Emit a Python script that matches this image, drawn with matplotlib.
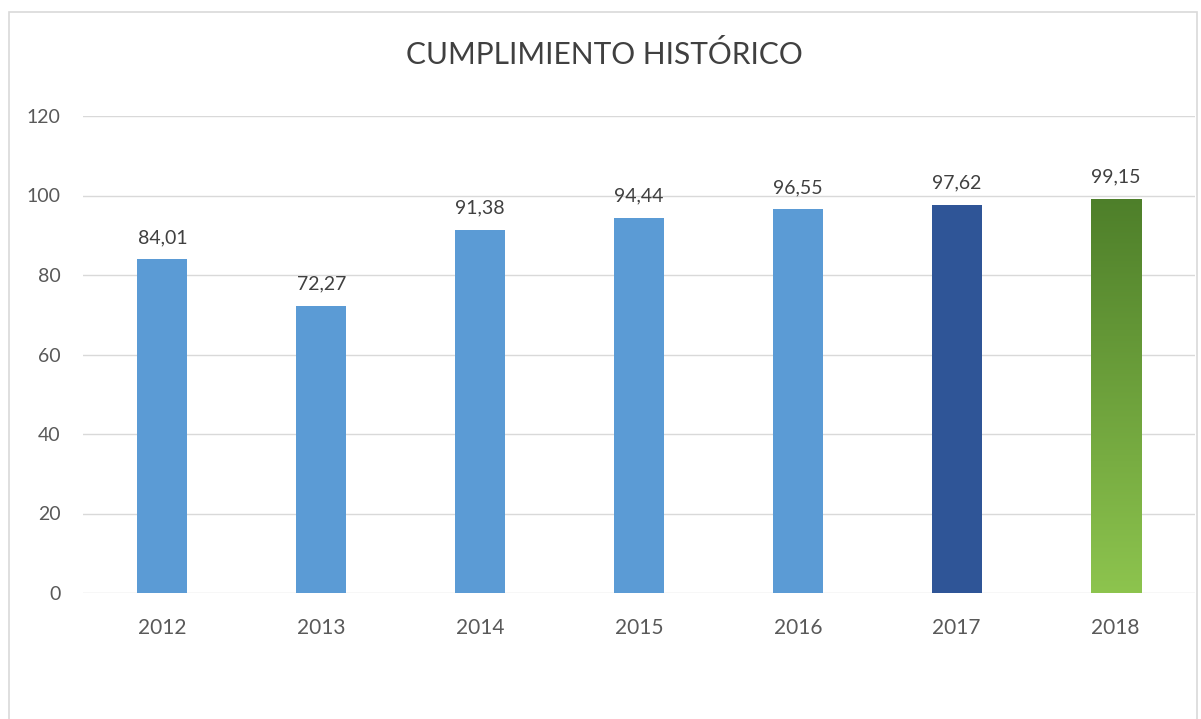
import numpy as np
import matplotlib.pyplot as plt
from matplotlib.colors import LinearSegmentedColormap
from matplotlib.patches import Rectangle

plt.rcParams['font.family'] = ['Lato', 'DejaVu Sans']

years = ['2012', '2013', '2014', '2015', '2016', '2017', '2018']
values = [84.01, 72.27, 91.38, 94.44, 96.55, 97.62, 99.15]
bar_colors = ['#5B9BD5', '#5B9BD5', '#5B9BD5', '#5B9BD5', '#5B9BD5', '#2F5597', None]


def _main():
    fig = plt.figure(figsize=(12.01, 7.19), dpi=100)
    ax = fig.add_axes([83 / 1201, 1 - 593 / 719, (1195 - 83) / 1201, (593 - 116) / 719])

    x = np.arange(len(years))
    width = 0.315
    bars = ax.bar(x, values, width=width, zorder=3,
                  color=[c if c else 'none' for c in bar_colors])

    # gradient fill for the last bar
    green = LinearSegmentedColormap.from_list('g', ['#8DC44E', '#4E7F2A'])
    last = bars[-1]
    grad = np.linspace(0, 1, 256).reshape(-1, 1)
    im = ax.imshow(grad, cmap=green, origin='lower', aspect='auto', zorder=3,
                   extent=[last.get_x(), last.get_x() + width, 0, last.get_height()])
    im.set_clip_path(last)

    for xi, v in zip(x, values):
        ax.text(xi, v + 3.3, f'{v:.2f}'.replace('.', ','), ha='center', va='bottom',
                fontsize=14, color='#404040')

    ax.set_xlim(-0.5, len(years) - 0.5)
    ax.set_ylim(0, 120)
    ax.set_yticks(range(0, 121, 20))
    ax.set_xticks(x)
    ax.set_xticklabels(years)
    ax.tick_params(axis='both', length=0, labelcolor='#595959')
    ax.tick_params(axis='y', pad=16, labelsize=14)
    ax.tick_params(axis='x', pad=18, labelsize=15)
    ax.grid(axis='y', color='#D9D9D9', linewidth=1, zorder=0)
    for s in ax.spines.values():
        s.set_visible(False)

    fig.text(604 / 1201, 1 - 55 / 719, 'CUMPLIMIENTO HISTÓRICO', ha='center', va='center',
             fontsize=21.5, color='#404040')

    # chart frame
    fig.patches.append(Rectangle((9 / 1201, -0.05), (1197 - 9) / 1201, 1 - 12 / 719 + 0.05,
                                 transform=fig.transFigure, fill=False,
                                 edgecolor='#D9D9D9', linewidth=1.2))

    fig.savefig('out.png', dpi=100)


if __name__ == '__main__':
    _main()
